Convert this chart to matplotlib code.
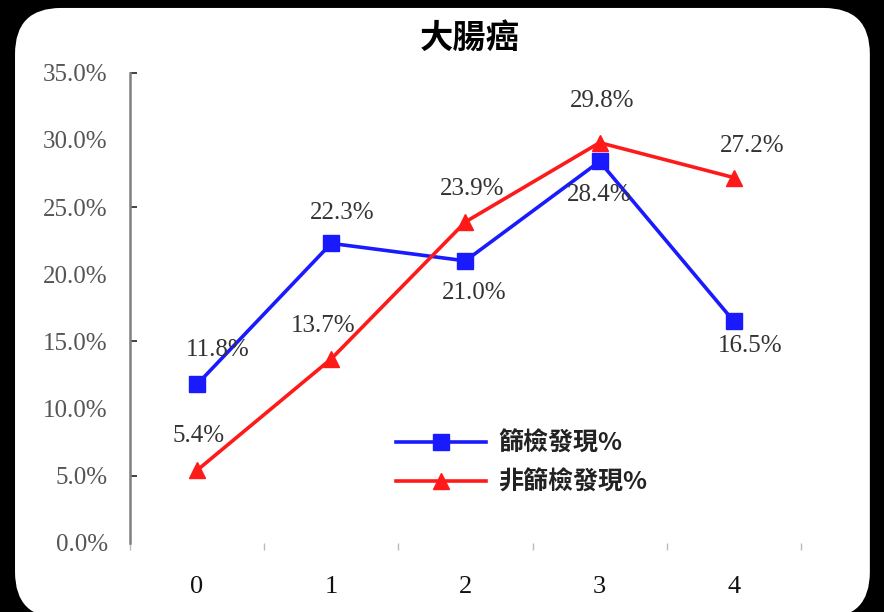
import matplotlib.pyplot as plt
from matplotlib.patches import FancyBboxPatch

plt.rcParams['font.family'] = ['Liberation Serif', 'Noto Sans CJK TC']

CATEGORIES = [0, 1, 2, 3, 4]
SCREENED = [11.8, 22.3, 21.0, 28.4, 16.5]
NOT_SCREENED = [5.4, 13.7, 23.9, 29.8, 27.2]
SERIES_NAMES = ['篩檢發現%', '非篩檢發現%']
TITLE = '大腸癌'

# label offsets in points (dx, dy) for each point
SCREENED_OFFSETS = [(15, 25), (8, 22), (6, -23), (0, -24), (12, -18)]
NOT_SCREENED_OFFSETS = [(1, 25), (-6, 24), (5, 24), (2, 30), (13, 23)]


def main():
    fig = plt.figure(figsize=(8.84, 6.12), dpi=100, facecolor='black')

    panel = FancyBboxPatch((0.017, -0.01), 0.967, 0.997,
                           boxstyle='round,pad=0,rounding_size=0.052',
                           transform=fig.transFigure, facecolor='white',
                           edgecolor='none', zorder=-5, mutation_aspect=884 / 612)
    fig.patches.append(panel)

    ax = fig.add_axes([0.147, 0.113, 0.759, 0.768])
    ax.set_facecolor('none')
    ax.set_zorder(2)

    ax.plot(CATEGORIES, SCREENED, color='#1a1aff', lw=2.6, marker='s',
            markersize=11, label=SERIES_NAMES[0], zorder=3)
    ax.plot(CATEGORIES, NOT_SCREENED, color='#ff1a1a', lw=2.6, marker='^',
            markersize=11, label=SERIES_NAMES[1], zorder=3)

    for x, y, off in zip(CATEGORIES, SCREENED, SCREENED_OFFSETS):
        ax.annotate(f'{y:.1f}%', (x, y), xytext=off, textcoords='offset points',
                    ha='center', va='center', fontsize=18, color='#333333')
    for x, y, off in zip(CATEGORIES, NOT_SCREENED, NOT_SCREENED_OFFSETS):
        ax.annotate(f'{y:.1f}%', (x, y), xytext=off, textcoords='offset points',
                    ha='center', va='center', fontsize=18, color='#333333')

    ax.set_xlim(-0.5, 4.5)
    ax.set_ylim(0, 35)
    ax.set_yticks(range(0, 36, 5))
    ax.set_yticklabels([f'{v:.1f}%' for v in range(0, 36, 5)])
    ax.yaxis.remove_overlapping_locs = False
    ax.set_yticks([5, 15, 25, 35], minor=True)
    ax.set_xticks(CATEGORIES)
    ax.set_xticklabels([str(c) for c in CATEGORIES])
    ax.set_xticks([c - 0.5 for c in CATEGORIES] + [4.5], minor=True)

    for side in ['top', 'right', 'bottom']:
        ax.spines[side].set_visible(False)
    ax.spines['left'].set_color('#808080')
    ax.spines['left'].set_linewidth(1.8)

    ax.tick_params(axis='y', which='major', length=0, labelsize=18,
                   labelcolor='#555555', pad=16)
    ax.tick_params(axis='y', which='minor', direction='in', length=5, width=1.3,
                   color='#333333')
    ax.tick_params(axis='x', which='major', length=0, labelsize=19,
                   labelcolor='#111111', pad=24)
    ax.tick_params(axis='x', which='minor', direction='out', length=5,
                   width=1, color='#bbbbbb')

    fig.text(0.532, 0.937, TITLE, ha='center', va='center', fontsize=24,
             fontweight='bold', family=['Noto Sans CJK TC'])

    leg = ax.legend(loc='upper left', bbox_to_anchor=(0.363, 0.285), frameon=False,
                    prop={'family': ['Noto Sans CJK TC'], 'size': 18, 'weight': 'bold'},
                    handlelength=3.6, handletextpad=0.5, labelspacing=0.6)
    for t in leg.get_texts():
        t.set_color('#222222')

    fig.savefig('out.png', dpi=100, facecolor='black')


if __name__ == '__main__':
    main()
